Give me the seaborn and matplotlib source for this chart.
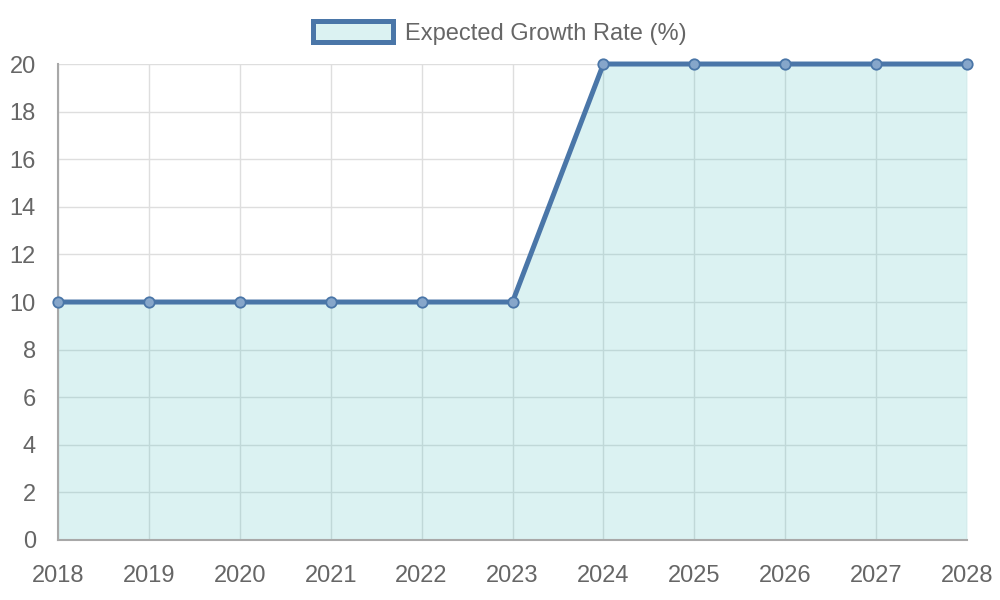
import matplotlib
matplotlib.use("Agg")
import matplotlib.pyplot as plt
import matplotlib.patches as mpatches
import seaborn as sns
import pandas as pd

# Chart data
years = [2018, 2019, 2020, 2021, 2022, 2023, 2024, 2025, 2026, 2027, 2028]
growth_rate = [10, 10, 10, 10, 10, 10, 20, 20, 20, 20, 20]
series_name = "Expected Growth Rate (%)"

df = pd.DataFrame({"Year": years, "Rate": growth_rate})

sns.set_style("white")
plt.rcParams["font.family"] = ["Liberation Sans", "DejaVu Sans"]

line_color = "#4a76a8"
fill_rgba = (75 / 255, 192 / 255, 192 / 255, 0.2)
text_color = "#666666"
grid_color = "#dedede"

fig = plt.figure(figsize=(10, 6), dpi=100)
ax = fig.add_axes([0.058, 0.1, 0.909, 0.7933])

ax.fill_between(df["Year"], df["Rate"], 0, color=fill_rgba, zorder=2, linewidth=0)
sns.lineplot(data=df, x="Year", y="Rate", ax=ax, color=line_color, linewidth=3.6,
             marker="o", markersize=7.5, markerfacecolor="#86a6ca",
             markeredgecolor=line_color, markeredgewidth=1.3, zorder=3,
             clip_on=False)

ax.set_xlim(2018, 2028)
ax.set_ylim(0, 20)
ax.set_xticks(years)
ax.set_yticks(range(0, 21, 2))
ax.grid(True, color=grid_color, linewidth=1, zorder=0)
ax.set_axisbelow(True)
ax.set_xlabel("")
ax.set_ylabel("")

for side in ["top", "right"]:
    ax.spines[side].set_visible(False)
for side in ["left", "bottom"]:
    ax.spines[side].set_color("#a8a8a8")
    ax.spines[side].set_linewidth(1.5)

ax.tick_params(axis="both", colors=grid_color, labelcolor=text_color, labelsize=17,
               length=10, width=1, direction="out")
ax.tick_params(axis="x", pad=8)
ax.tick_params(axis="y", pad=6)

handle = mpatches.Patch(facecolor=fill_rgba, edgecolor=line_color, linewidth=3.6, label=series_name)
leg = fig.legend(handles=[handle], loc="upper center", bbox_to_anchor=(0.5, 1.0), frameon=False,
                 fontsize=17, handlelength=3.4, handleheight=1.0, labelcolor=text_color,
                 handletextpad=0.5)

fig.savefig("out.png", dpi=100)
